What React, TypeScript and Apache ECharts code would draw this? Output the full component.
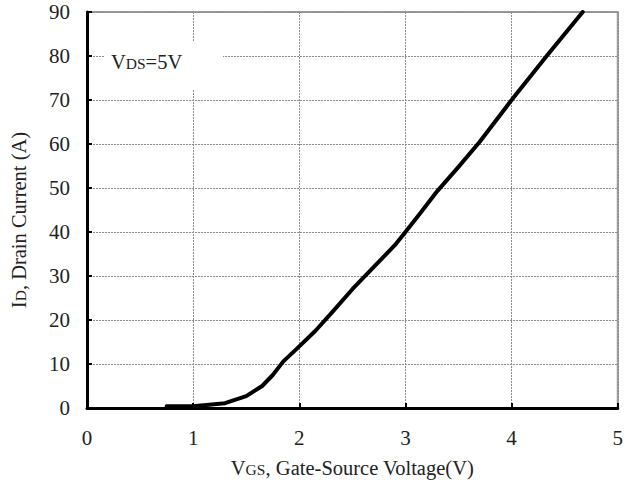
import React, { useEffect, useRef } from "react";
import * as echarts from "echarts";

const vgs = [0.75, 1.0, 1.3, 1.5, 1.65, 1.75, 1.85, 2.0, 2.15, 2.3, 2.5, 2.7, 2.9, 3.0, 3.15, 3.3, 3.5, 3.7, 4.0, 4.33, 4.67];
const idCurrent = [0.4, 0.4, 1.1, 2.7, 5, 7.5, 10.6, 14, 17.5, 21.5, 27, 32, 37, 40, 44.6, 49.3, 54.8, 60.5, 70, 80, 90];
const xTicks = [0, 1, 2, 3, 4, 5];
const yTicks = [0, 10, 20, 30, 40, 50, 60, 70, 80, 90];

const FONT = "'Liberation Serif', 'DejaVu Serif', serif";

export default function App() {
  const ref = useRef<HTMLDivElement>(null);
  useEffect(() => {
    if (!ref.current) return;
    const chart = echarts.init(ref.current, null, { renderer: "svg" });
    const data = vgs.map((v, i) => [v, idCurrent[i]]);
    chart.setOption({
      animation: false,
      backgroundColor: "#ffffff",
      grid: {
        left: 87,
        top: 12,
        right: 6,
        bottom: 73,
        show: true,
        borderColor: "#9a9a9a",
        borderWidth: 2,
        backgroundColor: "transparent",
      },
      xAxis: {
        type: "value",
        min: xTicks[0],
        max: xTicks[xTicks.length - 1],
        interval: 1,
        axisLine: { show: true, onZero: false, lineStyle: { color: "#000", width: 3 } },
        axisTick: { show: true, inside: true, length: 5, lineStyle: { color: "#000", width: 2 } },
        axisLabel: { color: "#222", fontFamily: FONT, fontSize: 21, margin: 19 },
        splitLine: { show: true, lineStyle: { color: "#8c8c8c", type: [2, 1], width: 1 } },
        name: "{a|V}{b|GS}{a|, Gate-Source Voltage(V)}",
        nameLocation: "middle",
        nameGap: 48,
        nameTextStyle: {
          rich: {
            a: { fontFamily: FONT, fontSize: 20.5, color: "#222", lineHeight: 22, verticalAlign: "bottom" },
            b: { fontFamily: FONT, fontSize: 15.5, color: "#222", lineHeight: 22, verticalAlign: "bottom", padding: [0, 0, 1, 0] },
          },
        },
      },
      yAxis: {
        type: "value",
        min: yTicks[0],
        max: yTicks[yTicks.length - 1],
        interval: 10,
        axisLine: { show: true, onZero: false, lineStyle: { color: "#000", width: 3 } },
        axisTick: { show: true, inside: true, length: 5, lineStyle: { color: "#000", width: 2 } },
        axisLabel: { color: "#222", fontFamily: FONT, fontSize: 21, margin: 17 },
        splitLine: { show: true, lineStyle: { color: "#8c8c8c", type: [2, 1], width: 1 } },
        name: "{a|I}{b|D}{a|, Drain Current (A)}",
        nameLocation: "middle",
        nameRotate: 90,
        nameGap: 58,
        nameTextStyle: {
          padding: [0, 20, 0, 0],
          rich: {
            a: { fontFamily: FONT, fontSize: 20.5, color: "#222", lineHeight: 22, verticalAlign: "bottom" },
            b: { fontFamily: FONT, fontSize: 15.5, color: "#222", lineHeight: 22, verticalAlign: "bottom", padding: [0, 0, 1, 0] },
          },
        },
      },
      graphic: [
        {
          type: "rect",
          z: 100,
          shape: { x: 104, y: 42, width: 119, height: 47 },
          style: { fill: "#ffffff" },
        },
        {
          type: "text",
          z: 101,
          x: 111,
          y: 61,
          style: {
            text: "{a|V}{b|DS}{a|=5V}",
            verticalAlign: "middle",
            rich: {
              a: { fontFamily: FONT, fontSize: 20.5, fill: "#222", lineHeight: 22, verticalAlign: "bottom" },
              b: { fontFamily: FONT, fontSize: 15.5, fill: "#222", lineHeight: 22, verticalAlign: "bottom", padding: [0, 0, 1, 0] },
            },
          },
        },
      ],
      series: [
        {
          type: "line",
          data,
          showSymbol: false,
          smooth: false,
          lineStyle: { color: "#000", width: 4, join: "round", cap: "round" },
          z: 5,
        },
      ],
    });
    return () => chart.dispose();
  }, []);
  return <div ref={ref} style={{ position: "fixed", left: 0, top: 0, width: 626, height: 483 }} />;
}
